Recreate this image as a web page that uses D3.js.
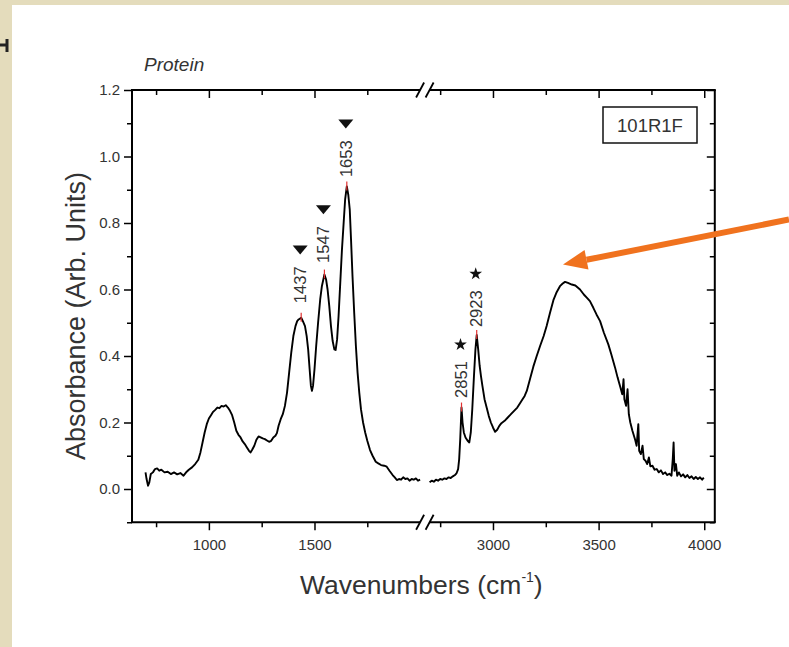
<!DOCTYPE html>
<html><head><meta charset="utf-8">
<script src="https://cdn.jsdelivr.net/npm/d3@7"></script>
<style>body{margin:0;background:#e4dcbc;} svg{display:block;}</style>
</head><body>
<svg id="chart" width="789" height="647"></svg>
<script>
// ---- data ----
const leftWavenumbers = [700,705,712,718,725,735,745,755,765,775,790,805,820,835,850,865,880,895,905,920,935,950,960,970,980,990,1000,1010,1020,1030,1040,1050,1060,1070,1080,1090,1100,1110,1120,1130,1140,1150,1160,1170,1180,1190,1197,1205,1215,1225,1235,1245,1255,1265,1275,1285,1295,1305,1315,1322,1330,1340,1350,1360,1370,1380,1390,1400,1410,1418,1425,1437,1445,1455,1463,1470,1477,1483,1488,1493,1500,1508,1517,1527,1535,1547,1555,1562,1570,1578,1586,1594,1600,1607,1614,1622,1630,1638,1645,1653,1660,1667,1673,1680,1688,1696,1704,1712,1720,1730,1740,1750,1763,1775,1790,1802,1815,1830,1842,1855,1870,1880,1890,1900,1910,1920,1930,1940,1950,1960,1970,1980,1990,2000];
const leftAbsorbance = [0.05,0.03,0.01,0.02,0.045,0.05,0.06,0.062,0.055,0.058,0.05,0.052,0.045,0.05,0.044,0.048,0.04,0.052,0.058,0.065,0.075,0.088,0.11,0.14,0.17,0.195,0.212,0.222,0.232,0.238,0.245,0.243,0.25,0.248,0.252,0.245,0.235,0.222,0.2,0.175,0.163,0.155,0.143,0.135,0.125,0.115,0.11,0.118,0.13,0.148,0.158,0.155,0.152,0.15,0.146,0.142,0.145,0.155,0.16,0.168,0.19,0.21,0.225,0.25,0.29,0.35,0.41,0.46,0.49,0.505,0.51,0.515,0.505,0.49,0.46,0.42,0.36,0.31,0.295,0.31,0.36,0.43,0.5,0.57,0.61,0.645,0.63,0.6,0.55,0.49,0.445,0.42,0.418,0.45,0.52,0.62,0.72,0.8,0.87,0.91,0.885,0.84,0.75,0.64,0.53,0.43,0.35,0.29,0.24,0.2,0.17,0.145,0.117,0.1,0.082,0.077,0.072,0.07,0.067,0.055,0.042,0.035,0.027,0.03,0.028,0.035,0.03,0.032,0.025,0.03,0.028,0.032,0.025,0.028];
const rightWavenumbers = [2700,2710,2720,2730,2740,2750,2760,2770,2780,2790,2800,2810,2820,2828,2835,2840,2845,2851,2856,2862,2870,2880,2888,2895,2902,2910,2917,2923,2930,2937,2943,2950,2960,2970,2980,2990,3000,3010,3020,3030,3040,3055,3070,3085,3100,3115,3128,3140,3150,3160,3175,3191,3207,3223,3240,3254,3270,3286,3300,3317,3330,3341,3355,3373,3390,3412,3430,3445,3459,3475,3490,3507,3525,3546,3560,3578,3590,3602,3612,3618,3622,3630,3637,3643,3650,3660,3673,3680,3688,3692,3700,3708,3714,3722,3730,3738,3745,3755,3765,3775,3785,3795,3805,3815,3825,3835,3845,3851,3855,3859,3866,3872,3880,3890,3900,3910,3920,3930,3940,3950,3960,3970,3980,3990,3998];
const rightAbsorbance = [0.02,0.025,0.022,0.028,0.025,0.03,0.028,0.032,0.03,0.035,0.033,0.038,0.042,0.048,0.06,0.09,0.15,0.245,0.2,0.17,0.155,0.145,0.14,0.17,0.24,0.34,0.42,0.463,0.42,0.37,0.34,0.31,0.27,0.245,0.22,0.2,0.185,0.172,0.178,0.19,0.198,0.205,0.215,0.225,0.235,0.245,0.258,0.27,0.28,0.295,0.33,0.368,0.4,0.43,0.46,0.49,0.53,0.568,0.59,0.61,0.618,0.623,0.62,0.615,0.612,0.6,0.585,0.575,0.565,0.545,0.525,0.505,0.47,0.435,0.405,0.365,0.335,0.308,0.285,0.33,0.27,0.25,0.3,0.225,0.2,0.175,0.148,0.13,0.195,0.115,0.105,0.13,0.09,0.085,0.075,0.095,0.068,0.07,0.058,0.06,0.05,0.056,0.045,0.05,0.042,0.046,0.04,0.09,0.14,0.055,0.075,0.04,0.05,0.038,0.044,0.035,0.042,0.033,0.038,0.03,0.036,0.03,0.035,0.028,0.034];

const yMajorTicks = [0.0,0.2,0.4,0.6,0.8,1.0,1.2];
const yMinorTicks = [-0.1,0.1,0.3,0.5,0.7,0.9,1.1];
const xMajorLeft = [1000,1500];
const xMinorLeft = [750,1250,1750];
const xMajorRight = [3000,3500,4000];
const xMinorRight = [2750,3250,3750];

const trianglePeaks = [1437,1547,1653];
const trianglePeakValues = [0.515,0.645,0.91];
const triangleLabelBase = [0.559,0.68,0.938];
const starPeaks = [2851,2923];
const starPeakValues = [0.245,0.463];
const starLabelBase = [0.274,0.487];

const titleText = "Protein";
const sampleText = "101R1F";
const xTitle = "Wavenumbers (cm";
const yTitle = "Absorbance (Arb. Units)";

// ---- drawing ----
const svg = d3.select("#chart");
const font = "'Liberation Sans', Arial, sans-serif";

svg.append("rect").attr("x",12).attr("y",5).attr("width",777).attr("height",642).attr("fill","#ffffff");
svg.append("path").attr("d","M0,45 H6 M7,39 V52").attr("stroke","#222").attr("stroke-width",3).attr("fill","none");

const xL = d3.scaleLinear().domain([636, 2000]).range([132, 420.1]);
const xR = d3.scaleLinear().domain([2700, 4050]).range([429.6, 714.8]);
const y = d3.scaleLinear().domain([-0.1, 1.2]).range([522.25, 90]);
const yTop = y(1.2), yBottom = y(-0.1), xLeft = xL.range()[0], xRight = xR.range()[1];

function styleAxis(g, labelSize){
  g.select(".domain").remove();
  g.selectAll(".tick line").attr("stroke","#000").attr("stroke-width",1.5);
  g.selectAll(".tick text").attr("font-family",font).attr("font-size",labelSize).attr("fill","#333");
}

// bottom / top axes
[[xL,xMajorLeft,xMinorLeft],[xR,xMajorRight,xMinorRight]].forEach(([sc,maj,min])=>{
  svg.append("g").attr("transform",`translate(0,${yBottom})`)
    .call(d3.axisBottom(sc).tickValues(maj).tickSize(8).tickPadding(9).tickFormat(d3.format("d")))
    .call(g=>styleAxis(g,15));
  svg.append("g").attr("transform",`translate(0,${yBottom})`)
    .call(d3.axisBottom(sc).tickValues(min).tickSize(5).tickFormat(""))
    .call(g=>styleAxis(g,15));
  svg.append("g").attr("transform",`translate(0,${yTop})`)
    .call(d3.axisTop(sc).tickValues(maj).tickSize(-8).tickFormat(""))
    .call(g=>styleAxis(g,15));
  svg.append("g").attr("transform",`translate(0,${yTop})`)
    .call(d3.axisTop(sc).tickValues(min).tickSize(-5).tickFormat(""))
    .call(g=>styleAxis(g,15));
});

// left / right axes
svg.append("g").attr("transform",`translate(${xLeft},0)`)
  .call(d3.axisLeft(y).tickValues(yMajorTicks).tickSize(8).tickPadding(4).tickFormat(d3.format(".1f")))
  .call(g=>styleAxis(g,15));
svg.append("g").attr("transform",`translate(${xLeft},0)`)
  .call(d3.axisLeft(y).tickValues(yMinorTicks).tickSize(5).tickFormat(""))
  .call(g=>styleAxis(g,15));
svg.append("g").attr("transform",`translate(${xRight},0)`)
  .call(d3.axisRight(y).tickValues(yMajorTicks).tickSize(-8).tickFormat(""))
  .call(g=>styleAxis(g,15));
svg.append("g").attr("transform",`translate(${xRight},0)`)
  .call(d3.axisRight(y).tickValues(yMinorTicks).tickSize(-5).tickFormat(""))
  .call(g=>styleAxis(g,15));

// frame lines with break
const frame = svg.append("g").attr("stroke","#000").attr("stroke-width",2).attr("fill","none");
const bL = xL.range()[1], bR = xR.range()[0];
[yTop,yBottom].forEach(yy=>{
  frame.append("line").attr("x1",xLeft-1).attr("x2",bL).attr("y1",yy).attr("y2",yy);
  frame.append("line").attr("x1",bR).attr("x2",xRight+1).attr("y1",yy).attr("y2",yy);
  [bL,bR].forEach(bx=>{
    frame.append("line").attr("x1",bx-4).attr("y1",yy+7.5).attr("x2",bx+4).attr("y2",yy-7.5).attr("stroke-width",1.8);
  });
});
frame.append("line").attr("x1",xLeft).attr("x2",xLeft).attr("y1",yTop).attr("y2",yBottom);
frame.append("line").attr("x1",xRight).attr("x2",xRight).attr("y1",yTop).attr("y2",yBottom);

// spectrum
const lineL = d3.line().x(d=>xL(d[0])).y(d=>y(d[1]));
const lineR = d3.line().x(d=>xR(d[0])).y(d=>y(d[1]));
svg.append("path").datum(d3.zip(leftWavenumbers,leftAbsorbance)).attr("d",lineL)
  .attr("fill","none").attr("stroke","#000").attr("stroke-width",1.9).attr("stroke-linejoin","round");
svg.append("path").datum(d3.zip(rightWavenumbers,rightAbsorbance)).attr("d",lineR)
  .attr("fill","none").attr("stroke","#000").attr("stroke-width",1.9).attr("stroke-linejoin","round");

// peak annotations
const downTriangle = "M-7.5,-4.5 L7.5,-4.5 L0,4.5 Z";
function annotate(sc, peaks, vals, bases, isTriangle){
  peaks.forEach((p,i)=>{
    const px = sc(p), py = y(vals[i]);
    svg.append("line").attr("x1",px).attr("x2",px).attr("y1",py-5).attr("y2",py+4)
      .attr("stroke","#e03030").attr("stroke-width",1.2);
    const by = y(bases[i]);
    const t = svg.append("text").attr("transform",`translate(${px+5},${by}) rotate(-90)`)
      .attr("font-family",font).attr("font-size",16.5).attr("fill","#333").text(String(p));
    const len = t.node().getComputedTextLength();
    const sy = by - len - 16.5;
    svg.append("path")
      .attr("d", isTriangle ? downTriangle : d3.symbol().type(d3.symbolStar).size(50)())
      .attr("transform",`translate(${px-1},${sy})`)
      .attr("fill","#111");
  });
}
annotate(xL, trianglePeaks, trianglePeakValues, triangleLabelBase, true);
annotate(xR, starPeaks, starPeakValues, starLabelBase, false);

// texts
svg.append("text").attr("x",144).attr("y",70.5).attr("font-family",font).attr("font-style","italic")
  .attr("font-size",19).attr("fill","#333").text(titleText);
svg.append("rect").attr("x",603).attr("y",107).attr("width",94).attr("height",36)
  .attr("fill","#fff").attr("stroke","#111").attr("stroke-width",1.5);
svg.append("text").attr("x",650).attr("y",131.5).attr("text-anchor","middle").attr("font-family",font)
  .attr("font-size",18.5).attr("fill","#333").text(sampleText);

const xt = svg.append("text").attr("x",300).attr("y",594).attr("font-family",font)
  .attr("font-size",26.5).attr("fill","#333");
xt.append("tspan").text(xTitle);
xt.append("tspan").attr("font-size",14).attr("dy",-12).text("-1");
xt.append("tspan").attr("dy",12).text(")");

svg.append("text").attr("transform","translate(85,316) rotate(-90)").attr("text-anchor","middle")
  .attr("font-family",font).attr("font-size",27).attr("fill","#333").text(yTitle);

// orange arrow
const tail=[789,219.5], tip=[563,264.5];
const ang=Math.atan2(tip[1]-tail[1], tip[0]-tail[0]);
const hl=24, hw=10;
const base=[tip[0]-hl*Math.cos(ang), tip[1]-hl*Math.sin(ang)];
svg.append("line").attr("x1",tail[0]).attr("y1",tail[1]).attr("x2",base[0]).attr("y2",base[1])
  .attr("stroke","#f0721e").attr("stroke-width",6);
svg.append("path").attr("d",`M${tip[0]},${tip[1]} L${base[0]-hw*Math.sin(ang)},${base[1]+hw*Math.cos(ang)} L${base[0]+hw*Math.sin(ang)},${base[1]-hw*Math.cos(ang)} Z`)
  .attr("fill","#f0721e");
</script>
</body></html>
